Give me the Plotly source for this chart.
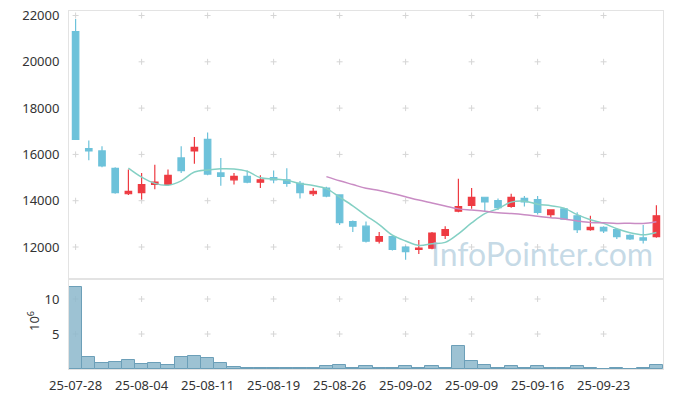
import plotly.graph_objects as go
import pandas as pd

dates = ["25-07-28","25-07-29","25-07-30","25-07-31","25-08-01",
         "25-08-04","25-08-05","25-08-06","25-08-07","25-08-08",
         "25-08-11","25-08-12","25-08-13","25-08-14","25-08-18",
         "25-08-19","25-08-20","25-08-21","25-08-22","25-08-25",
         "25-08-26","25-08-27","25-08-28","25-08-29","25-09-01",
         "25-09-02","25-09-03","25-09-04","25-09-05","25-09-08",
         "25-09-09","25-09-10","25-09-11","25-09-12","25-09-15",
         "25-09-16","25-09-17","25-09-18","25-09-19","25-09-22",
         "25-09-23","25-09-24","25-09-25","25-09-26","25-09-29"]

open_ = [21300,16250,16150,15400,14300,14350,14700,14700,15850,16150,
         16650,15200,14900,15050,14800,15000,14900,14750,14300,14550,
         14250,13100,12900,12250,12450,12000,11900,11950,12500,13550,
         13800,14150,14000,13750,14100,14050,13400,13650,13350,12750,
         12850,12750,12500,12400,12450]
high = [21850,16600,16350,15450,15350,15200,15550,15350,16350,16750,
        16950,15850,15200,15300,15100,15300,15400,14850,14550,14600,
        14250,13150,13100,12650,12500,12050,12300,12650,12900,14950,
        14550,14150,14100,14300,14200,14200,13600,13700,13500,13350,
        12900,12800,12550,12950,13800]
low = [16650,15750,15450,14300,14250,14050,14500,14650,15200,15600,
       15100,14650,14700,14750,14550,14750,14600,14100,14200,14150,
       12950,12650,12200,12150,11850,11450,11700,11900,12350,13500,
       13650,13550,13600,13700,13750,13400,13250,13200,12600,12700,
       12600,12350,12300,12150,12400]
close = [16650,16150,15500,14350,14400,14700,14800,15100,15300,16300,
         15150,15050,15050,14800,14900,14900,14750,14350,14400,14200,
         13050,12900,12250,12450,11900,11800,11950,12600,12750,13750,
         14150,13950,13700,14150,13950,13500,13600,13200,12750,12850,
         12700,12450,12350,12300,13350]
volume_m = [11.67,1.67,0.81,0.95,1.24,0.67,0.81,0.52,1.67,1.81,
            1.52,0.81,0.24,0.15,0.15,0.15,0.15,0.15,0.15,0.38,
            0.52,0.2,0.38,0.2,0.2,0.38,0.2,0.38,0.2,3.24,
            1.14,0.52,0.2,0.38,0.2,0.38,0.2,0.2,0.38,0.2,
            0.05,0.2,0.05,0.2,0.52]

price_ticks = [12000,14000,16000,18000,20000,22000]
vol_ticks = [5,10]

x = list(range(len(dates)))
xtick_idx = x[::5]
xtick_text = [dates[i] for i in xtick_idx]

cs = pd.Series(close)
ma5 = cs.rolling(5).mean()
ma20 = cs.rolling(20).mean()

RED = "#ee3b42"
BLUE = "#6dc2da"
GRID = "#d6d6d6"

fig = go.Figure()

fig.add_trace(go.Candlestick(
    x=x, open=open_, high=high, low=low, close=close,
    xaxis="x", yaxis="y",
    increasing=dict(line=dict(color=RED, width=1.2), fillcolor=RED),
    decreasing=dict(line=dict(color=BLUE, width=1.2), fillcolor=BLUE),
    whiskerwidth=0, showlegend=False))

fig.add_trace(go.Scatter(x=x, y=ma5, mode="lines", xaxis="x", yaxis="y",
                         line=dict(color="#84d0c4", width=1.5, shape="spline"),
                         showlegend=False))
fig.add_trace(go.Scatter(x=x, y=ma20, mode="lines", xaxis="x", yaxis="y",
                         line=dict(color="#c98cc4", width=1.5, shape="spline"),
                         showlegend=False))

fig.add_trace(go.Bar(x=x, y=volume_m, xaxis="x2", yaxis="y2",
                     marker=dict(color="rgba(140,183,203,0.85)",
                                 line=dict(color="#6c9fb8", width=1)),
                     showlegend=False))

# small grid crosses at tick intersections, drawn beneath the data
shapes = []
def cross(xr, yr, xi, yv):
    common = dict(type="line", xref=xr, yref=yr, layer="below",
                  xsizemode="pixel", ysizemode="pixel",
                  xanchor=xi, yanchor=yv, line=dict(color=GRID, width=1))
    shapes.append(dict(x0=-3, x1=3, y0=0, y1=0, **common))
    shapes.append(dict(x0=0, x1=0, y0=-3, y1=3, **common))

for i in xtick_idx:
    for p in price_ticks:
        cross("x", "y", i, p)
    for v in vol_ticks:
        cross("x2", "y2", i, v)

font = dict(family="Noto Sans, sans-serif", size=13, color="#333333")
split = 90 / 358
frame = dict(showline=True, mirror=True, linecolor="#e3e3e3", linewidth=1,
             showgrid=False, zeroline=False, ticks="", ticklen=0,
             automargin=False)

fig.update_layout(
    width=673, height=397,
    margin=dict(l=69, r=10, t=11, b=28),
    paper_bgcolor="white", plot_bgcolor="white",
    font=font, bargap=0,
    showlegend=False,
    shapes=shapes,
    xaxis=dict(domain=[0, 1], range=[-0.5, len(x) - 0.5], anchor="y",
               showticklabels=False, rangeslider=dict(visible=False),
               tickvals=xtick_idx, **frame),
    yaxis=dict(domain=[split, 1], range=[10618, 22195], anchor="x",
               tickvals=price_ticks, ticktext=[str(p) for p in price_ticks],
               ticklabelstandoff=6, **frame),
    xaxis2=dict(domain=[0, 1], range=[-0.5, len(x) - 0.5], anchor="y2",
                tickvals=xtick_idx, ticktext=xtick_text,
                ticklabelstandoff=4, **frame),
    yaxis2=dict(domain=[0, split], range=[0, 12.86], anchor="x2",
                tickvals=vol_ticks, ticklabelstandoff=6, **frame),
    annotations=[
        dict(text="InfoPointer.com", xref="paper", yref="paper",
             x=0.9865, y=split + 0.012, xanchor="right", yanchor="bottom",
             showarrow=False,
             font=dict(family="Lato, sans-serif", size=32,
                       color="rgba(160,194,214,0.6)")),
        dict(text="10<sup>6</sup>", xref="paper", yref="paper",
             x=-0.0606, y=0.134, xanchor="center", yanchor="middle",
             textangle=-90, showarrow=False,
             font=dict(family="Noto Sans, sans-serif", size=13, color="#333333")),
    ],
)

fig.write_html("out.html", config={"displayModeBar": False},
               post_script="document.body.style.margin='0';document.body.style.padding='0';")
